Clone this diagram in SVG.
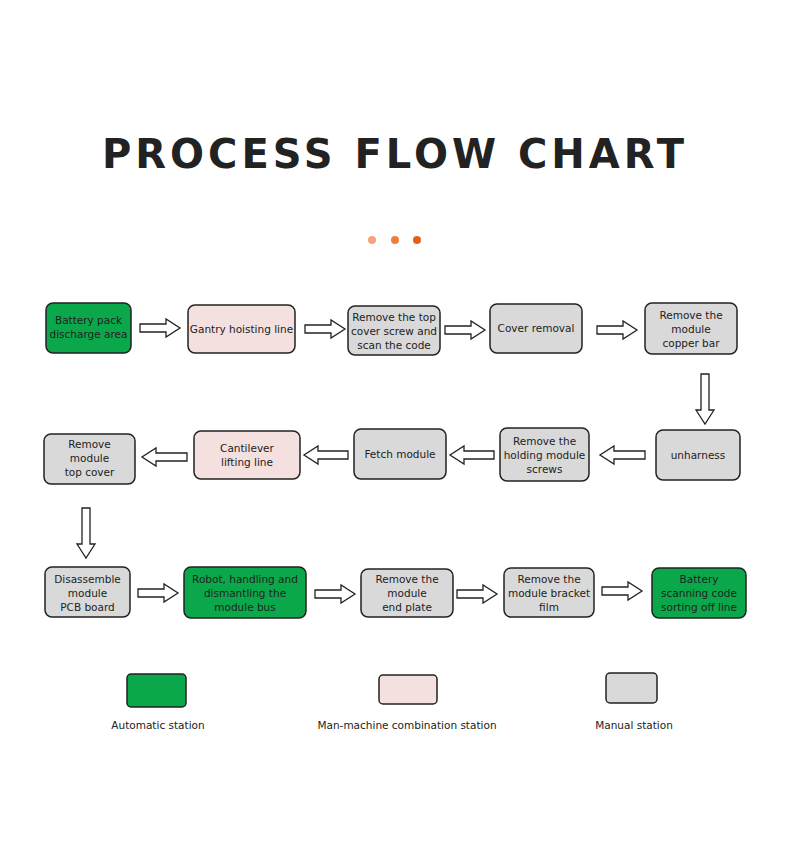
<svg xmlns="http://www.w3.org/2000/svg" width="790" height="853" viewBox="0 0 790 853">
<style>
.n rect{stroke:#222;stroke-width:1.5}
.a{fill:#0aa84a}.p{fill:#f4e0df}.m{fill:#d9d9d9}
text{font-family:"DejaVu Sans",sans-serif;font-size:10.5px;fill:#222;text-anchor:middle}
.ar{fill:#fff;stroke:#222;stroke-width:1.3}
</style>
<defs>
<path id="r" class="ar" d="M0,-4 H26 V-9 L40,0 L26,9 V4 H0 Z"/>
<path id="l" class="ar" d="M0,-4 H-30 V-9 L-44,0 L-30,9 V-4 Z" transform="scale(1)"/>
<path id="d" class="ar" d="M-4,0 V36 H-9 L0,50 L9,36 H4 V0 Z"/>
</defs>
<rect width="790" height="853" fill="#fff"/>
<text x="395" y="168" style="font-size:40px;font-weight:bold;letter-spacing:4px;font-family:'DejaVu Sans',sans-serif" fill="#222">PROCESS FLOW CHART</text>
<circle cx="372" cy="240" r="4" fill="#f6a27c"/><circle cx="395" cy="240" r="4" fill="#f07f3c"/><circle cx="417" cy="240" r="4" fill="#e45f1a"/>
<g id="connectors">
<use href="#r" x="140" y="328"/><use href="#r" x="305" y="329"/><use href="#r" x="445" y="330"/><use href="#r" x="597" y="330"/>
<use href="#d" x="705" y="374"/>
<path class="ar" d="M645,451 H614 V446 L600,455 L614,464 V459 H645 Z"/>
<path class="ar" d="M494,451 H464 V446 L450,455 L464,464 V459 H494 Z"/>
<path class="ar" d="M348,451 H318 V446 L304,455 L318,464 V459 H348 Z"/>
<path class="ar" d="M187,453 H156 V448 L142,457 L156,466 V461 H187 Z"/>
<use href="#d" x="86" y="508"/>
<use href="#r" x="138" y="593"/><use href="#r" x="315" y="594"/><use href="#r" x="457" y="594"/><use href="#r" x="602" y="591"/>
</g>
<g id="n1" class="n"><rect class="a" x="46" y="303" width="85" height="50" rx="7"/><text x="88.5" y="324">Battery pack</text><text x="88.5" y="338">discharge area</text></g>
<g id="n2" class="n"><rect class="p" x="188" y="305" width="107" height="48" rx="7"/><text x="241.5" y="333">Gantry hoisting line</text></g>
<g id="n3" class="n"><rect class="m" x="348" y="306" width="92" height="49" rx="7"/><text x="394" y="321">Remove the top</text><text x="394" y="335">cover screw and</text><text x="394" y="349">scan the code</text></g>
<g id="n4" class="n"><rect class="m" x="490" y="304" width="92" height="49" rx="7"/><text x="536" y="332">Cover removal</text></g>
<g id="n5" class="n"><rect class="m" x="645" y="303" width="92" height="51" rx="7"/><text x="691" y="319">Remove the</text><text x="691" y="333">module</text><text x="691" y="347">copper bar</text></g>
<g id="n6" class="n"><rect class="m" x="656" y="430" width="84" height="50" rx="7"/><text x="698" y="459">unharness</text></g>
<g id="n7" class="n"><rect class="m" x="500" y="428" width="89" height="53" rx="7"/><text x="544.5" y="445">Remove the</text><text x="544.5" y="459">holding module</text><text x="544.5" y="473">screws</text></g>
<g id="n8" class="n"><rect class="m" x="354" y="429" width="92" height="50" rx="7"/><text x="400" y="458">Fetch module</text></g>
<g id="n9" class="n"><rect class="p" x="194" y="431" width="106" height="48" rx="7"/><text x="247" y="452">Cantilever</text><text x="247" y="466">lifting line</text></g>
<g id="n10" class="n"><rect class="m" x="44" y="434" width="91" height="50" rx="7"/><text x="89.5" y="448">Remove</text><text x="89.5" y="462">module</text><text x="89.5" y="476">top cover</text></g>
<g id="n11" class="n"><rect class="m" x="45" y="567" width="85" height="50" rx="7"/><text x="87.5" y="583">Disassemble</text><text x="87.5" y="597">module</text><text x="87.5" y="611">PCB board</text></g>
<g id="n12" class="n"><rect class="a" x="184" y="567" width="122" height="51" rx="7"/><text x="245" y="583">Robot, handling and</text><text x="245" y="597">dismantling the</text><text x="245" y="611">module bus</text></g>
<g id="n13" class="n"><rect class="m" x="361" y="569" width="92" height="48" rx="7"/><text x="407" y="583">Remove the</text><text x="407" y="597">module</text><text x="407" y="611">end plate</text></g>
<g id="n14" class="n"><rect class="m" x="504" y="568" width="90" height="49" rx="7"/><text x="549" y="583">Remove the</text><text x="549" y="597">module bracket</text><text x="549" y="611">film</text></g>
<g id="n15" class="n"><rect class="a" x="652" y="568" width="94" height="50" rx="7"/><text x="699" y="583">Battery</text><text x="699" y="597">scanning code</text><text x="699" y="611">sorting off line</text></g>
<g id="legend" class="n">
<rect class="a" x="127" y="674" width="59" height="33" rx="4"/><text x="158" y="729">Automatic station</text>
<rect class="p" x="379" y="675" width="58" height="29" rx="4"/><text x="407" y="729">Man-machine combination station</text>
<rect class="m" x="606" y="673" width="51" height="30" rx="4"/><text x="634" y="729">Manual station</text>
</g>
</svg>
